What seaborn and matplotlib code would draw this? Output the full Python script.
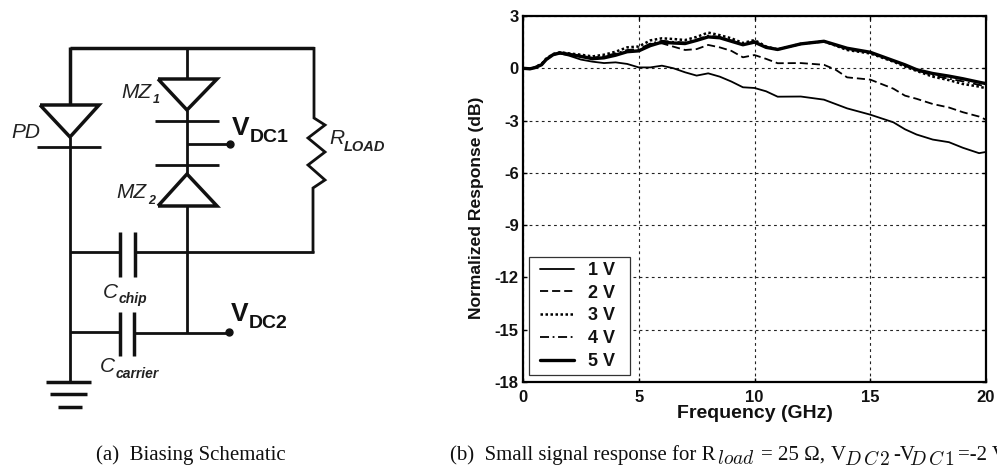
import matplotlib
import matplotlib.pyplot as plt
from matplotlib.patches import Rectangle
import pandas as pd
import seaborn as sns

matplotlib.use('Agg')

# response curves
freq_ghz = [0, 0.3, 0.5, 0.8, 1.0, 1.3, 1.6, 2, 2.5, 3, 3.5, 4, 4.5, 5, 5.5, 6, 6.5, 7, 7.5, 8, 8.5, 9, 9.5, 10,
            10.5, 11, 12, 13, 13.5, 14, 15, 16, 16.5, 17, 17.7, 18.4, 19, 19.7, 20]
resp_1v = [0, -0.03, 0.03, 0.2, 0.5, 0.78, 0.85, 0.72, 0.5, 0.38, 0.3, 0.34, 0.25, 0.05, 0.05, 0.15, 0, -0.23,
           -0.42, -0.29, -0.48, -0.76, -1.09, -1.13, -1.32, -1.63, -1.62, -1.8, -2.05, -2.3, -2.66, -3.1, -3.5,
           -3.8, -4.09, -4.24, -4.56, -4.87, -4.8]
resp_2v = [0, -0.03, 0.03, 0.2, 0.5, 0.78, 0.86, 0.78, 0.68, 0.58, 0.65, 0.8, 0.95, 1.0, 1.4, 1.43, 1.24, 1.05,
           1.1, 1.34, 1.2, 1.0, 0.63, 0.76, 0.54, 0.29, 0.3, 0.2, -0.08, -0.52, -0.65, -1.17, -1.57, -1.75, -2.05,
           -2.25, -2.52, -2.77, -2.95]
resp_3v = [0, -0.03, 0.05, 0.25, 0.55, 0.82, 0.92, 0.85, 0.78, 0.68, 0.78, 0.95, 1.2, 1.25, 1.6, 1.72, 1.68, 1.62,
           1.8, 2.05, 1.9, 1.72, 1.45, 1.62, 1.25, 1.08, 1.4, 1.55, 1.3, 1.05, 0.85, 0.38, 0.1, -0.15, -0.48,
           -0.68, -0.9, -1.05, -1.15]
resp_4v = [0, -0.03, 0.04, 0.22, 0.52, 0.8, 0.9, 0.82, 0.72, 0.6, 0.7, 0.85, 1.05, 1.1, 1.42, 1.58, 1.52, 1.48,
           1.65, 1.88, 1.8, 1.6, 1.38, 1.55, 1.22, 1.08, 1.4, 1.52, 1.32, 1.08, 0.9, 0.42, 0.15, -0.1, -0.42,
           -0.6, -0.75, -0.95, -1.05]
resp_5v = [0, -0.03, 0.03, 0.2, 0.5, 0.78, 0.88, 0.8, 0.68, 0.55, 0.6, 0.75, 0.95, 1.0, 1.3, 1.5, 1.45, 1.42,
           1.6, 1.8, 1.75, 1.55, 1.35, 1.5, 1.2, 1.08, 1.4, 1.55, 1.35, 1.15, 0.92, 0.44, 0.2, -0.08, -0.3,
           -0.45, -0.6, -0.8, -0.88]
bias_labels = ['1 V', '2 V', '3 V', '4 V', '5 V']
x_ticks = [0, 5, 10, 15, 20]
y_ticks = [-18, -15, -12, -9, -6, -3, 0, 3]

sns.set_theme(style='white')
plt.rcParams['font.family'] = ['Liberation Sans', 'DejaVu Sans']
plt.rcParams['mathtext.fontset'] = 'cm'
plt.rcParams['axes.unicode_minus'] = False

W, H = 997, 470
fig = plt.figure(figsize=(W / 100, H / 100), dpi=100)

# schematic layer, in picture pixels
sch = fig.add_axes([0, 0, 1, 1])
sch.set_xlim(0, W)
sch.set_ylim(H, 0)
sch.axis('off')

thick = 2.5
thin = 2.0


def wire(xs, ys, lw=thin):
    sch.plot(xs, ys, color='#111111', lw=lw, solid_capstyle='butt', solid_joinstyle='miter')


# wires
wire([70, 314], [48, 48], thick)
wire([70, 70], [47, 105], thick)
wire([70, 70], [137, 382])
wire([187, 187], [47, 79])
wire([187, 187], [110, 174])
wire([187, 187], [206, 333])
wire([187, 230], [144, 144])
wire([70, 119], [252, 252])
wire([135, 314], [252, 252])
wire([70, 119], [332, 332])
wire([135, 229], [333, 333])
wire([314, 314, 325, 308, 325, 308, 325, 313, 313],
     [47, 118, 125, 138, 152, 165, 180, 188, 253])
# diodes
wire([40, 99, 70, 40], [105, 105, 137, 105], thick)
wire([37, 101], [147, 147])
wire([158, 217, 187, 158], [79, 79, 110, 79], thick)
wire([155, 219], [121, 121])
wire([155, 219], [165, 165])
wire([158, 217, 187, 158], [206, 206, 174, 206], thick)
# capacitors
wire([120, 120], [232, 277], thick)
wire([135, 135], [232, 277], thick)
wire([120, 120], [312, 356], thick)
wire([134, 134], [312, 356], thick)
# ground
wire([46, 91], [382, 382], thick)
wire([50, 87], [394, 394], thick)
wire([58, 82], [407, 407], thick)
# terminals
sch.plot([230, 229], [144, 332], 'o', color='#111111', ms=5)

ital = dict(style='italic', color='#222222', va='center', ha='left')
sch.text(11, 132, 'PD', fontsize=15, **ital)
sch.text(121, 93, 'MZ', fontsize=15, **ital)
sch.text(153, 100, '1', fontsize=9, weight='bold', **ital)
sch.text(116, 193, 'MZ', fontsize=15, **ital)
sch.text(148, 201, '2', fontsize=9, weight='bold', **ital)
sch.text(329, 139, 'R', fontsize=15, **ital)
sch.text(344, 147, 'LOAD', fontsize=10.5, weight='bold', **ital)
sch.text(103, 292, 'C', fontsize=15, **ital)
sch.text(119, 299, 'chip', fontsize=10, weight='bold', **ital)
sch.text(100, 366, 'C', fontsize=15, **ital)
sch.text(116, 374, 'carrier', fontsize=10, weight='bold', **ital)

term = dict(color='#111111', va='center', ha='left', weight='bold')
sch.text(232, 128, 'V', fontsize=19, **term)
sch.text(250, 138, 'DC1', fontsize=14, **term)
sch.text(231, 314, 'V', fontsize=19, **term)
sch.text(249, 324, 'DC2', fontsize=14, **term)

serif = dict(family=['Liberation Serif', 'DejaVu Serif'], fontsize=15, color='#111111', va='baseline', ha='left')
sch.text(96, 460, '(a)  Biasing Schematic', **serif)
# caption (b) placed piece by piece, the subscripts run wider than mathtext sets them
sch.text(450, 460, '(b)  Small signal response for R', **serif)
sch.text(761, 460, '= 25 Ω,', **serif)
sch.text(831, 460, 'V', **serif)
sch.text(893, 460, '-V', **serif)
sch.text(958, 460, '=-2 V', **serif)
sub = dict(serif, fontsize=20)
sch.text(716, 460, r'$_{load}$', **sub)
sch.text(843, 460, r'$_{D\,C\,2}$', **sub)
sch.text(908, 460, r'$_{D\,C\,1}$', **sub)

# response plot
left, right, top, bottom = 523, 986, 16, 382
ax = fig.add_axes([left / W, 1 - bottom / H, (right - left) / W, (bottom - top) / H])
ax.patch.set_alpha(0)

df = pd.DataFrame({'freq': freq_ghz, '1 V': resp_1v, '2 V': resp_2v, '3 V': resp_3v, '4 V': resp_4v, '5 V': resp_5v})
styles = {'1 V': ('-', 1.3), '2 V': ((0, (4.5, 2.2)), 1.3), '3 V': ((0, (1, 1)), 1.8),
          '4 V': ((0, (5, 2, 1, 2)), 1.3), '5 V': ('-', 2.4)}
for name in bias_labels:
    ls, lw = styles[name]
    sns.lineplot(data=df, x='freq', y=name, ax=ax, color='black', linestyle=ls, linewidth=lw, label=name)

ax.set_xlim(0, 20)
ax.set_ylim(-18, 3)
ax.set_xticks(x_ticks)
ax.set_yticks(y_ticks)
ax.grid(True, color='#222222', linestyle=(0, (2.5, 3)), linewidth=0.8)
ax.set_axisbelow(True)
ax.tick_params(direction='in', length=3, width=1, pad=3, labelsize=12, labelcolor='#111111', color='black',
               left=True, bottom=True, right=True, top=True)
ax.tick_params(axis='x', pad=6)
for lab in ax.get_xticklabels() + ax.get_yticklabels():
    lab.set_fontweight('bold')
for s in ax.spines.values():
    s.set_color('black')
    s.set_linewidth(1.6)
ax.set_xlabel('Frequency (GHz)', fontsize=14, fontweight='bold', color='#111111', labelpad=0)
ax.set_ylabel('Normalized Response (dB)', fontsize=12.6, fontweight='bold', color='#111111', labelpad=8, y=0.475)

# legend box drawn on its own so the text rows can sit tighter than the box padding allows
box_x = (529 - left) / (right - left)
box_y = (bottom - 375) / (bottom - top)
ax.add_patch(Rectangle((box_x, box_y), 101 / (right - left), 118 / (bottom - top), transform=ax.transAxes,
                       facecolor='white', edgecolor='#333333', linewidth=0.9, zorder=4))
leg = ax.legend(loc='center left', bbox_to_anchor=(box_x, (bottom - 316) / (bottom - top)), borderaxespad=0,
                frameon=False, handlelength=1.9, labelspacing=0.32, borderpad=0.6, handletextpad=0.75,
                prop={'weight': 'bold', 'size': 13})
leg.set_zorder(5)
for t in leg.get_texts():
    t.set_color('#111111')

plt.savefig('out.png', dpi=100)
plt.close()
